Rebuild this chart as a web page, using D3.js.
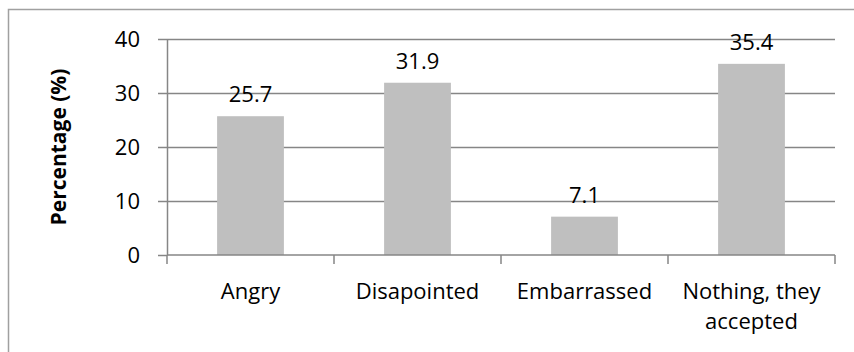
<!DOCTYPE html>
<html>
<head>
<meta charset="utf-8">
<script src="https://cdn.jsdelivr.net/npm/d3@7"></script>
<style>
  html, body { margin: 0; padding: 0; background: #fff; }
  svg { display: block; }
  text { font-family: "Open Sans", "Noto Sans", sans-serif; fill: #000; }
</style>
</head>
<body>
<svg id="chart" width="854" height="352"></svg>
<script>
// Reactions reported by respondents
const categories = ["Angry", "Disapointed", "Embarrassed", "Nothing, they accepted"];
const values = [25.7, 31.9, 7.1, 35.4];
const yTicks = [0, 10, 20, 30, 40];
const yTitle = "Percentage (%)";

const svg = d3.select("#chart");
const W = 854, H = 352;
const margin = { left: 167, right: 19, top: 39, bottom: 97 };
const fontSize = 22;

// outer frame of the chart area
svg.append("rect")
  .attr("x", 8.5).attr("y", 9.5)
  .attr("width", W).attr("height", H)
  .attr("fill", "none").attr("stroke", "#a0a0a0").attr("stroke-width", 1.5);

const x = d3.scaleBand()
  .domain(categories)
  .range([margin.left, W - margin.right])
  .paddingInner(0.6).paddingOuter(0.3);

const y = d3.scaleLinear()
  .domain([0, 40])
  .range([H - margin.bottom, margin.top]);

// horizontal gridlines
svg.append("g")
  .selectAll("line")
  .data(yTicks.filter(d => d > 0))
  .join("line")
  .attr("x1", margin.left).attr("x2", W - margin.right)
  .attr("y1", d => Math.round(y(d)) + 0.5).attr("y2", d => Math.round(y(d)) + 0.5)
  .attr("stroke", "#868686").attr("stroke-width", 1.5);

// bars
svg.append("g")
  .selectAll("rect")
  .data(values)
  .join("rect")
  .attr("x", (d, i) => x(categories[i]))
  .attr("width", x.bandwidth())
  .attr("y", d => y(d))
  .attr("height", d => y(0) - y(d))
  .attr("fill", "#bfbfbf");

// y axis
const yAxis = svg.append("g")
  .attr("transform", `translate(${margin.left},0)`)
  .call(d3.axisLeft(y).tickValues(yTicks).tickSize(9).tickPadding(18).tickSizeOuter(0));
yAxis.select(".domain").attr("stroke", "#868686").attr("stroke-width", 1.5);
yAxis.selectAll(".tick line").attr("stroke", "#868686").attr("stroke-width", 1.5);
yAxis.selectAll(".tick text")
  .style("font-family", "'Open Sans', sans-serif")
  .style("font-size", fontSize + "px").attr("fill", "#000");

// x axis: tick marks on the category boundaries
const xBase = y(0);
const boundaries = d3.range(categories.length + 1).map(i =>
  margin.left + i * (W - margin.left - margin.right) / categories.length);
svg.append("line")
  .attr("x1", margin.left).attr("x2", W - margin.right)
  .attr("y1", xBase).attr("y2", xBase)
  .attr("stroke", "#868686").attr("stroke-width", 1.5);
svg.append("g")
  .selectAll("line")
  .data(boundaries)
  .join("line")
  .attr("x1", d => d).attr("x2", d => d)
  .attr("y1", xBase).attr("y2", xBase + 9)
  .attr("stroke", "#868686").attr("stroke-width", 1.5);

// category labels, wrapped onto two lines where needed
const catLines = [["Angry"], ["Disapointed"], ["Embarrassed"], ["Nothing, they", "accepted"]];
svg.append("g")
  .selectAll("text")
  .data(categories)
  .join("text")
  .attr("text-anchor", "middle")
  .attr("font-size", fontSize)
  .attr("x", d => x(d) + x.bandwidth() / 2)
  .attr("y", 299)
  .each(function (d, i) {
    d3.select(this).selectAll("tspan")
      .data(catLines[i])
      .join("tspan")
      .attr("x", x(d) + x.bandwidth() / 2)
      .attr("dy", (t, j) => j === 0 ? 0 : 30)
      .text(t => t);
  });

// value labels above bars
svg.append("g")
  .selectAll("text")
  .data(values)
  .join("text")
  .attr("text-anchor", "middle")
  .attr("font-size", fontSize)
  .attr("x", (d, i) => x(categories[i]) + x.bandwidth() / 2)
  .attr("y", d => y(d) - 14)
  .text(d => d.toFixed(1));

// y axis title
svg.append("text")
  .attr("transform", `translate(66,${(margin.top + H - margin.bottom) / 2}) rotate(-90)`)
  .attr("text-anchor", "middle")
  .attr("font-size", 21)
  .attr("font-weight", "bold")
  .text(yTitle);
</script>
</body>
</html>
